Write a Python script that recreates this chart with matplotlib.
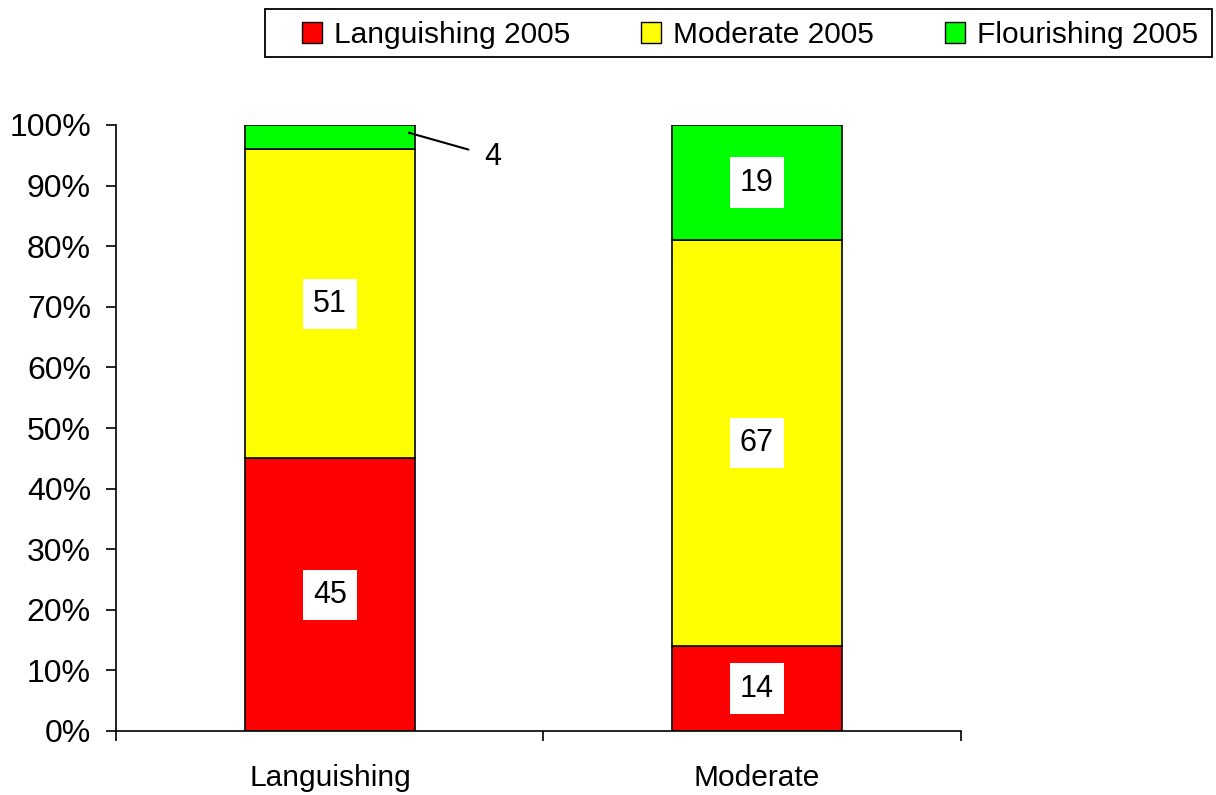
import matplotlib
matplotlib.use("Agg")
import matplotlib.pyplot as plt
import numpy as np
from matplotlib.patches import Patch, Rectangle

plt.rcParams["font.family"] = ["Liberation Sans", "DejaVu Sans"]

categories = ["Languishing", "Moderate"]
series_names = ["Languishing 2005", "Moderate 2005", "Flourishing 2005"]
languishing_2005 = [45, 14]
moderate_2005 = [51, 67]
flourishing_2005 = [4, 19]
colors = ["#FF0000", "#FFFF00", "#00FF00"]

FS = 23      # y tick labels
FS_N = 21.5  # category labels, data labels, legend
W, H = 1216, 795

fig = plt.figure(figsize=(W / 100, H / 100), dpi=100)
ax = fig.add_axes([116 / W, 1 - 731 / H, (961 - 116) / W, (731 - 125) / H])

x = np.arange(len(categories))
series = [languishing_2005, moderate_2005, flourishing_2005]
bottom = np.zeros(len(categories))
width = 0.40
for name, vals, col in zip(series_names, series, colors):
    vals = np.array(vals, dtype=float)
    ax.bar(x, vals, width, bottom=bottom, color=col, edgecolor="black",
           linewidth=1.2, label=name, zorder=2)
    for xi, b, v in zip(x, bottom, vals):
        if v >= 10:
            ax.text(xi, b + v / 2, f"{int(v)}", ha="center", va="center",
                    fontsize=FS_N + 0.5, zorder=3,
                    bbox=dict(boxstyle="square,pad=0.33", fc="white", ec="none"))
    bottom += vals

# small segment label with leader line
small_val = flourishing_2005[0]
top0 = languishing_2005[0] + moderate_2005[0]
ax.annotate(f"{small_val}", xy=(0.185, top0 + small_val * 0.68),
            xytext=(0.382, 94.8), ha="center", va="center", fontsize=FS_N + 0.5,
            arrowprops=dict(arrowstyle="-", color="black", lw=1.5,
                            shrinkA=10, shrinkB=0))

xmin, xmax = -0.501, 1.478
ax.set_xlim(xmin, xmax)
ax.set_ylim(0, 100)
ax.set_yticks(np.arange(0, 101, 10))
ax.set_yticklabels([f"{v}%" for v in range(0, 101, 10)], fontsize=FS)
ax.set_xticks(x)
ax.set_xticklabels(categories, fontsize=FS_N)
ax.set_xticks([xmin, 0.5, xmax], minor=True)
ax.tick_params(axis="x", which="major", length=0, pad=24)
ax.tick_params(axis="x", which="minor", length=7, width=1.2, direction="out")
ax.tick_params(axis="y", length=7, width=1.2, direction="out", pad=11)
for s in ["top", "right"]:
    ax.spines[s].set_visible(False)
for s in ["left", "bottom"]:
    ax.spines[s].set_linewidth(1.2)

# legend frame drawn separately, entries placed inside
fig.add_artist(Rectangle((265 / W, 1 - 57 / H), 947 / W, 48 / H,
                         transform=fig.transFigure, fill=False,
                         edgecolor="black", linewidth=1.3))
handles = [Patch(facecolor=c, edgecolor="black", linewidth=1.0) for c in colors]
em = FS_N * 100 / 72
fig.legend(handles, series_names, loc="center left",
           bbox_to_anchor=(302 / W, 1 - 35 / H), ncol=3,
           prop={"size": FS_N},
           frameon=False, handlelength=20 / em, handleheight=20 / em,
           handletextpad=12 / em, borderaxespad=0, borderpad=0,
           columnspacing=71 / em)

fig.savefig("out.png", dpi=100)
